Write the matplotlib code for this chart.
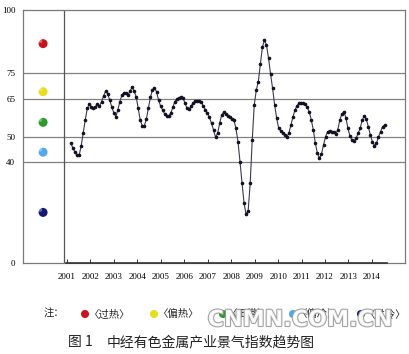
import matplotlib
matplotlib.use("Agg")
import matplotlib.pyplot as plt
import matplotlib.patheffects as pe
import numpy as np

# monthly index values (2001 - mid 2014)
index_vals = [47.3, 45.3, 43.7, 42.7, 42.6, 46.2, 51.3, 56.5, 61.1, 62.8, 61.8, 61.4, 61.8, 62.8, 61.9,
              63.8, 66.0, 68.0, 66.8, 64.4, 61.8, 59.4, 57.8, 60.5, 63.8, 66.4, 67.3, 67.3, 66.4, 68.0,
              69.4, 68.0, 65.7, 61.1, 56.5, 54.2, 54.2, 56.8, 61.1, 65.5, 68.4, 69.3, 67.7, 64.4, 62.0,
              60.5, 58.9, 58.2, 58.2, 59.2, 61.5, 63.8, 64.8, 65.3, 65.5, 65.3, 63.1, 61.1, 60.7, 62.0,
              63.4, 64.0, 64.0, 64.0, 63.6, 62.0, 60.5, 59.2, 57.6, 55.2, 52.6, 49.7, 51.3, 55.2, 58.5,
              59.6, 58.9, 58.1, 57.8, 56.9, 56.5, 53.2, 48.0, 40.0, 31.5, 23.6, 19.2, 20.6, 31.5, 48.6,
              62.5, 68.4, 71.7, 78.7, 85.3, 88.1, 86.2, 80.9, 74.7, 69.0, 62.5, 57.2, 53.2, 52.2, 51.3,
              50.5, 49.9, 51.3, 54.5, 57.8, 60.5, 62.2, 63.2, 63.4, 63.3, 62.8, 61.5, 59.8, 56.5, 52.6,
              47.3, 43.4, 41.4, 43.1, 46.6, 49.9, 51.9, 52.2, 51.9, 51.6, 51.0, 52.6, 56.5, 58.8, 59.8,
              57.4, 53.2, 50.2, 48.6, 48.2, 49.3, 51.3, 53.2, 56.5, 58.1, 56.9, 53.9, 50.6, 48.0, 46.4,
              47.3, 49.9, 51.9, 53.9, 54.5]
first_date = 2001.17
last_date = 2014.54
years = list(range(2001, 2015))
grid_levels = [40, 50, 65, 75]
ytick_vals = [0, 40, 50, 65, 75, 100]

# signal lights on the left
light_vals = [86.7, 67.7, 55.6, 43.8, 20.0]
light_colors = ['#c8141c', '#e6de1e', '#2c9a2c', '#52aaea', '#121a72']
legend_names = ['〈过热〉', '〈偏热〉', '〈正常〉', '〈偏冷〉', '〈过冷〉']

plt.rcParams['font.family'] = ['Noto Sans CJK SC', 'DejaVu Sans']

fig = plt.figure(figsize=(4.10, 3.54), dpi=100)
ax = fig.add_axes([23/410, 1-263/354, 382/410, 253/354])

x0 = 1999.124
x1 = 2015.41
ax.set_xlim(x0, x1)
ax.set_ylim(0, 100)

for s in ax.spines.values():
    s.set_color('#7a7a7a')
    s.set_linewidth(0.9)

for g in grid_levels:
    ax.axhline(g, color='#808080', lw=0.9, zorder=1)
ax.axvline(2000.87, color='#555555', lw=0.9, zorder=1)

# x baseline with year ticks
ax.plot([2000.96, 2014.66], [0, 0], color='#333333', lw=1.2, clip_on=False, zorder=3)
ax.set_xticks(years)
ax.set_xticklabels([str(y) for y in years], family='Liberation Serif', fontsize=6.5)
ax.tick_params(axis='x', direction='in', length=3, width=0.7, color='#333333', pad=7)
ax.set_yticks(ytick_vals)
ax.set_yticklabels([str(v) for v in ytick_vals], family='Liberation Serif', fontsize=6.5)
ax.tick_params(axis='y', length=0, pad=5.5)

xs = np.linspace(first_date, last_date, len(index_vals))
ax.plot(xs, index_vals, color='#3a3a50', lw=0.8, marker='o', ms=1.6,
        mfc='#111122', mec='#111122', zorder=4)

lx = [1999.98] * len(light_vals)
ax.scatter(lx, light_vals, s=42, c=light_colors, zorder=5, edgecolors='none')
ax.scatter([v - 0.12 for v in lx], [v + 1.0 for v in light_vals], s=8, c='white', alpha=0.35,
           zorder=6, edgecolors='none')

# overlay in pixel coords for the note row and caption
ov = fig.add_axes([0, 0, 1, 1])
ov.set_xlim(0, 410)
ov.set_ylim(354, 0)
ov.axis('off')

ov.text(44, 314, '注：', fontsize=7.5, va='center', ha='left', color='#222222')
dot_x = [85, 154, 223, 293, 361]
for dx, col, name in zip(dot_x, light_colors, legend_names):
    ov.scatter([dx], [314], s=34, c=col, edgecolors='none', zorder=3)
    ov.text(dx + 4, 314, name, fontsize=7.5, va='center', ha='left', color='#222222')

ov.text(68, 342, '图 1', fontsize=10, va='center', ha='left', color='#222222')
ov.text(107, 342, '中经有色金属产业景气指数趋势图', fontsize=10, va='center', ha='left',
        color='#222222')

wm = ov.text(300, 320, 'CNMN.COM.CN', fontsize=16, fontweight='bold', family='DejaVu Sans',
             color='white', va='center', ha='center', alpha=0.9, zorder=10)
wm.set_path_effects([pe.withStroke(linewidth=1.6, foreground='#9a9a9a')])

fig.savefig('out.png', dpi=100)
